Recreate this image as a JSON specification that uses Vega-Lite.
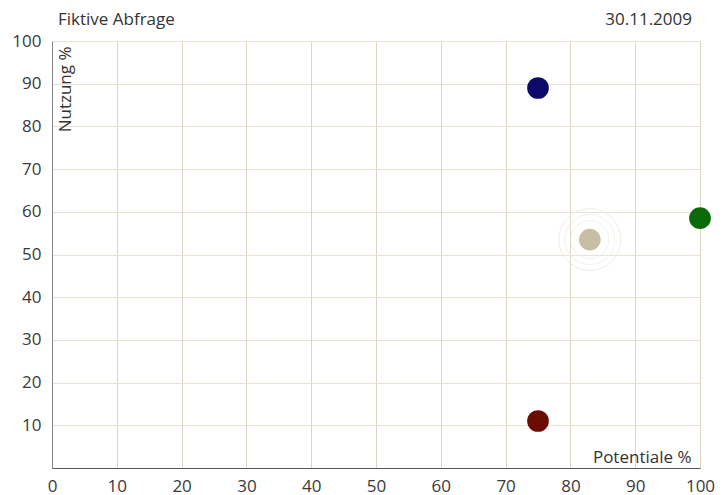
{
  "$schema": "https://vega.github.io/schema/vega-lite/v6.json",
  "width": 648,
  "height": 427,
  "autosize": "none",
  "padding": {"left": 52, "top": 41, "right": 22, "bottom": 27},
  "background": "white",
  "config": {
    "font": "Open Sans",
    "view": {"stroke": "#c8c8c8", "strokeWidth": 1},
    "axis": {"labelFont": "Open Sans", "titleFont": "Open Sans"}
  },
  "data": {
    "values": [
      {"id": "A", "potentiale": 75, "nutzung": 89},
      {"id": "B", "potentiale": 83, "nutzung": 53.5},
      {"id": "C", "potentiale": 100, "nutzung": 58.5},
      {"id": "D", "potentiale": 75, "nutzung": 11}
    ]
  },
  "layer": [
    {
      "transform": [{"filter": "datum.id == 'B'"}],
      "mark": {"type": "point", "filled": false, "size": 3844, "stroke": "#f0ede6", "strokeWidth": 1, "opacity": 1},
      "encoding": {
        "x": {
          "field": "potentiale", "type": "quantitative",
          "scale": {"domain": [0, 100], "nice": false, "zero": true},
          "axis": {
            "orient": "bottom",
            "values": [0, 10, 20, 30, 40, 50, 60, 70, 80, 90, 100],
            "grid": true, "gridColor": "#dcd6c2", "gridWidth": 1,
            "ticks": false,
            "domain": true, "domainColor": "#555555", "domainWidth": 1,
            "labelFontSize": 17, "labelColor": "#3a3a3a", "labelPadding": 10,
            "labelFlush": false,
            "title": "Potentiale %",
            "titleFontSize": 17, "titleFontWeight": "normal", "titleColor": "#333333",
            "titleX": 639, "titleY": -6, "titleAlign": "right", "titleBaseline": "alphabetic", "titleAnchor": null
          }
        },
        "y": {
          "field": "nutzung", "type": "quantitative",
          "scale": {"domain": [0, 100], "nice": false, "zero": true},
          "axis": {
            "values": [10, 20, 30, 40, 50, 60, 70, 80, 90, 100],
            "grid": true, "gridColor": "#e6e2d6", "gridWidth": 1,
            "ticks": false,
            "domain": true, "domainColor": "#8a8a8a", "domainWidth": 1,
            "labelFontSize": 17, "labelColor": "#3a3a3a", "labelPadding": 11,
            "labelFlush": false,
            "title": "Nutzung %",
            "titleFontSize": 17, "titleFontWeight": "normal", "titleColor": "#333333",
            "titleAngle": -90, "titleX": 18, "titleY": 5, "titleAlign": "right", "titleBaseline": "alphabetic", "titleAnchor": null
          }
        }
      }
    },
    {
      "transform": [{"filter": "datum.id == 'B'"}],
      "mark": {"type": "point", "filled": false, "size": 2500, "stroke": "#f0ede6", "strokeWidth": 1},
      "encoding": {
        "x": {"field": "potentiale", "type": "quantitative"},
        "y": {"field": "nutzung", "type": "quantitative"}
      }
    },
    {
      "transform": [{"filter": "datum.id == 'B'"}],
      "mark": {"type": "point", "filled": false, "size": 1444, "stroke": "#f0ede6", "strokeWidth": 1},
      "encoding": {
        "x": {"field": "potentiale", "type": "quantitative"},
        "y": {"field": "nutzung", "type": "quantitative"}
      }
    },
    {
      "mark": {"type": "circle", "size": 470, "opacity": 1},
      "encoding": {
        "x": {"field": "potentiale", "type": "quantitative"},
        "y": {"field": "nutzung", "type": "quantitative"},
        "color": {
          "field": "id", "type": "nominal",
          "scale": {"domain": ["A", "B", "C", "D"], "range": ["#0c0a68", "#c6bfa6", "#0a6a0a", "#6a0c02"]},
          "legend": null
        }
      }
    },
    {
      "data": {"values": [{"label": "30.11.2009"}]},
      "mark": {"type": "text", "align": "right", "baseline": "alphabetic", "dx": -8, "fontSize": 17, "fontWeight": "normal", "fill": "#333333", "font": "Open Sans", "clip": false},
      "encoding": {
        "x": {"datum": 100, "type": "quantitative"},
        "y": {"datum": 103.75, "type": "quantitative"},
        "text": {"field": "label"}
      }
    },
    {
      "data": {"values": [{"label": "Fiktive Abfrage"}]},
      "mark": {"type": "text", "align": "left", "baseline": "alphabetic", "dx": 6, "fontSize": 17, "fontWeight": "normal", "fill": "#333333", "font": "Open Sans", "clip": false},
      "encoding": {
        "x": {"datum": 0, "type": "quantitative"},
        "y": {"datum": 103.75, "type": "quantitative"},
        "text": {"field": "label"}
      }
    }
  ]
}
